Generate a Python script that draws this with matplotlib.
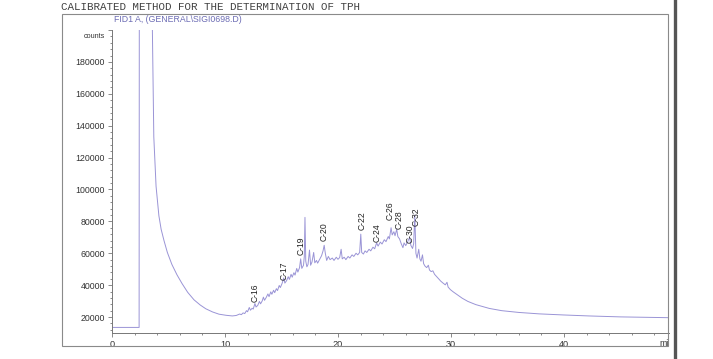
import matplotlib
matplotlib.use("Agg")
import matplotlib.pyplot as plt
from matplotlib.patches import Rectangle
from matplotlib.lines import Line2D
from matplotlib.ticker import MultipleLocator

# FID trace, retention time (min) and detector signal (counts)
rt_min = [0.0, 2.4, 2.42, 3.48, 3.7, 3.9, 4.15, 4.35, 4.6, 4.9, 5.3, 5.75, 6.2, 6.7,
          7.26, 7.8, 8.3, 8.9, 9.47, 10.1, 10.65, 11.0, 11.3, 11.45, 11.6, 11.75, 11.9,
          12.0, 12.15, 12.25, 12.4, 12.5, 12.65, 12.75, 12.9, 13.05, 13.15, 13.3, 13.4,
          13.5, 13.65, 13.8, 13.9, 14.05, 14.15, 14.3, 14.4, 14.55, 14.65, 14.8, 14.9,
          15.05, 15.2, 15.3, 15.45, 15.6, 15.7, 15.85, 15.95, 16.1, 16.2, 16.35, 16.45,
          16.6, 16.7, 16.8, 16.95, 17.02, 17.08, 17.15, 17.25, 17.35, 17.48, 17.58, 17.7,
          17.85, 17.95, 18.1, 18.2, 18.4, 18.55, 18.68, 18.78, 18.88, 19.0, 19.15, 19.3,
          19.5, 19.65, 19.85, 20.0, 20.15, 20.28, 20.38, 20.55, 20.7, 20.9, 21.05, 21.25,
          21.4, 21.6, 21.75, 21.92, 22.02, 22.1, 22.25, 22.4, 22.55, 22.75, 22.9, 23.1,
          23.25, 23.42, 23.55, 23.75, 23.9, 24.1, 24.25, 24.45, 24.55, 24.7, 24.8, 24.95,
          25.05, 25.2, 25.3, 25.45, 25.6, 25.75, 25.85, 26.0, 26.15, 26.35, 26.45, 26.6,
          26.7, 26.8, 26.9, 27.0, 27.15, 27.25, 27.35, 27.48, 27.58, 27.7, 27.85, 28.0,
          28.1, 28.25, 28.4, 28.55, 28.75, 28.9, 29.1, 29.3, 29.5, 29.65, 29.75, 29.95,
          30.2, 30.5, 31.0, 31.5, 32.2, 33.4, 34.5, 36.0, 37.8, 40.0, 42.2, 45.0, 49.3]
signal = [13500, 13500, 250000, 250000, 133000, 102000, 83500, 75000, 68000, 60500, 53000,
          46500, 41000, 35500, 30800, 27600, 25200, 23200, 21800, 21100, 20700, 21000,
          21900, 21500, 22600, 22200, 24000, 23300, 26000, 24300, 25500, 25000, 28500,
          26300, 27300, 29800, 28300, 30200, 32500, 30500, 32300, 34500, 32800, 35800,
          34300, 36800, 35300, 37800, 36600, 39800, 38500, 41000, 44500, 41300, 42800,
          45300, 43600, 46800, 45000, 47800, 46300, 50500, 48200, 51000, 56500, 50500,
          52500, 58000, 82500, 55000, 51500, 53000, 62000, 52500, 54500, 60500, 54000,
          55500, 53800, 56500, 58500, 61500, 65000, 60000, 55500, 58000, 56000, 57000,
          55500, 57500, 56200, 57300, 62500, 56500, 57500, 56000, 58000, 57000, 59000,
          58000, 60000, 59000, 60500, 72000, 60500, 59500, 61500, 60500, 62500, 61500,
          63800, 62800, 66500, 64500, 67000, 65800, 68500, 67300, 70500, 69000, 76000,
          71500, 73500, 71000, 75000, 70500, 69000, 66000, 63500, 66500, 64800, 67000,
          70000, 65000, 63000, 66000, 84000, 60000, 57000, 62500, 56500, 55000, 59000,
          53500, 52000, 51000, 52500, 49500, 48500, 49000, 46800, 45200, 44000, 42500,
          41300, 40200, 41800, 38800, 37200, 35800, 34300, 31800, 29800, 27800, 25400,
          24000, 22900, 22000, 21300, 20700, 20100, 19600]

# peak annotations: name, retention time, height of label base
peak_names = ["C-16", "C-17", "C-19", "C-20", "C-22", "C-24", "C-26", "C-28", "C-30", "C-32"]
peak_rt = [12.65, 15.2, 16.7, 18.8, 22.1, 23.5, 24.6, 25.4, 26.4, 26.95]
peak_label_y = [29700, 43500, 58900, 68000, 74800, 67200, 80700, 75100, 66700, 77300]

W, H = 713, 359
fig = plt.figure(figsize=(W / 100, H / 100), dpi=100)

def fx(px):
    return px / W

def fy(py):
    return 1 - py / H

# outer frame of the printout
fig.patches.append(Rectangle((fx(62), fy(346)), fx(606), (346 - 14) / H,
                             transform=fig.transFigure, fill=False, lw=0.8,
                             edgecolor="#8a8a8a"))
# dark edge of the scanned page
fig.lines.append(Line2D([fx(675), fx(675)], [0, 1], transform=fig.transFigure,
                        lw=2.4, color="#555555"))

fig.text(fx(61), fy(7), "CALIBRATED METHOD FOR THE DETERMINATION OF TPH",
         family="Liberation Mono", fontsize=7.8, color="#404040", va="center")
fig.text(fx(114), fy(20), "FID1 A, (GENERAL\\SIGI0698.D)",
         family="Liberation Sans", fontsize=6.3, color="#6c6cb4", va="center")

ax = fig.add_axes([fx(112), fy(333), fx(557), 303 / H])
ax.patch.set_alpha(0)
ax.plot(rt_min, signal, color="#9a94d6", lw=0.7)

ax.set_xlim(0, 49.3)
ax.set_ylim(10000, 200000)
for side in ["top", "right"]:
    ax.spines[side].set_visible(False)
for side in ["left", "bottom"]:
    ax.spines[side].set_color("#777777")
    ax.spines[side].set_linewidth(0.7)

ax.xaxis.set_major_locator(MultipleLocator(10))
ax.xaxis.set_minor_locator(MultipleLocator(2))
ax.yaxis.set_minor_locator(MultipleLocator(4000))
ax.set_yticks(range(20000, 200001, 20000))
ax.set_yticklabels([str(v) for v in range(20000, 180001, 20000)] + [""])
ax.tick_params(which="both", direction="out", color="#777777", width=0.6,
               labelsize=6.3, labelcolor="#333333", pad=2)
ax.tick_params(axis="x", labelsize=6.6)
ax.tick_params(which="major", length=3.2)
ax.tick_params(which="minor", length=1.6)
for lab in ax.get_xticklabels() + ax.get_yticklabels():
    lab.set_family("Liberation Sans")

ax.text(-0.012, 196000, "counts", transform=ax.get_yaxis_transform(), ha="right",
        va="center", fontsize=5.2, color="#333333", family="Liberation Sans")
ax.text(1.0, -0.02, "mi", transform=ax.transAxes, ha="right", va="top",
        fontsize=6.3, color="#333333", family="Liberation Sans")

for name, rt, y in zip(peak_names, peak_rt, peak_label_y):
    ax.text(rt, y, name, rotation=90, ha="center", va="bottom", fontsize=6.2,
            color="#222222", family="Liberation Sans")

fig.savefig("out.png", dpi=100)
